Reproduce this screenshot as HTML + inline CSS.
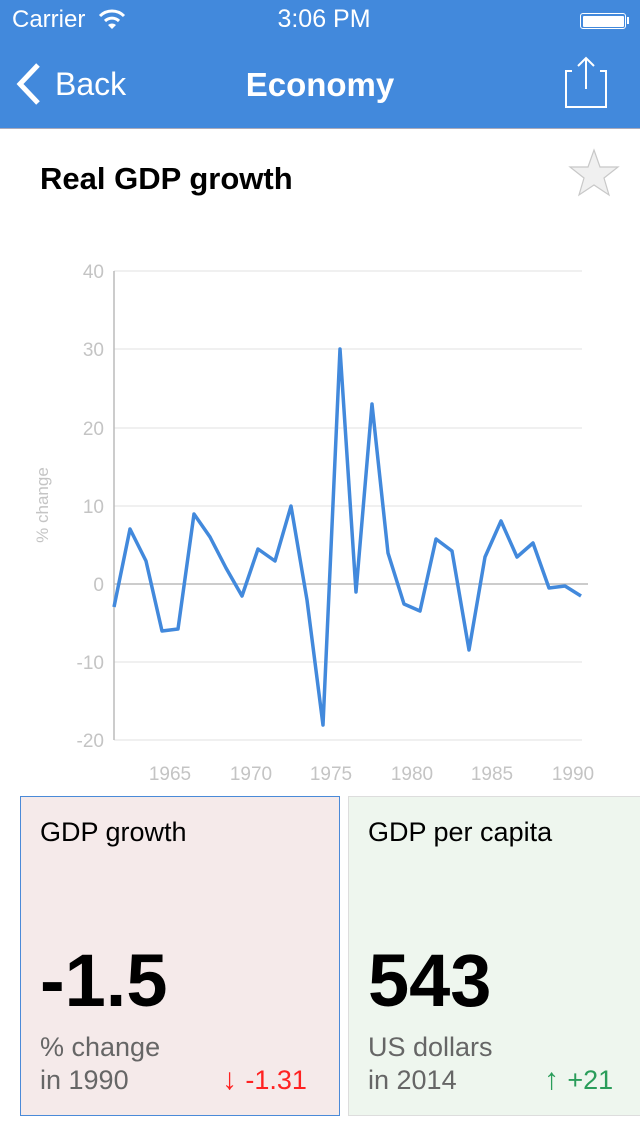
<!DOCTYPE html>
<html><head><meta charset="utf-8"><style>
body{margin:0;width:640px;height:1136px;background:#fff;font-family:"Liberation Sans",sans-serif;position:relative;overflow:hidden}
.a{position:absolute;white-space:nowrap}
</style></head><body>
<div class="a" style="left:0;top:0;width:640px;height:128px;background:#4289dc;border-bottom:1px solid #aab"></div>
<div class="a" style="left:12px;top:6px;color:#fff;font-size:24px">Carrier</div>
<svg class="a" style="left:98px;top:8px" width="28" height="22" viewBox="0 0 28 22"><path d="M2 8 A17 17 0 0 1 26 8" stroke="#fff" stroke-width="3" fill="none"/><path d="M7 13 A10 10 0 0 1 21 13" stroke="#fff" stroke-width="3" fill="none"/><path d="M10 17 L14 21 L18 17 A6 6 0 0 0 10 17Z" fill="#fff"/></svg>
<div class="a" style="left:0;width:648px;text-align:center;top:5px;color:#fff;font-size:25px">3:06 PM</div>
<div class="a" style="left:580px;top:13px;width:44px;height:14px;border:1.5px solid #fff;border-radius:3px"><div style="margin:1.5px;height:11px;background:#fff;border-radius:1px"></div></div>
<div class="a" style="left:627px;top:17px;width:2px;height:7px;background:#fff"></div>
<svg class="a" style="left:14px;top:62px" width="30" height="44"><path d="M24 3 L6 22 L24 41" stroke="#fff" stroke-width="5" fill="none"/></svg>
<div class="a" style="left:55px;top:66px;color:#fff;font-size:32px">Back</div>
<div class="a" style="left:0;width:640px;text-align:center;top:66px;color:#fff;font-size:33px;font-weight:bold">Economy</div>
<svg class="a" style="left:565px;top:55px" width="45" height="55"><path d="M7 16 H1 V52 H41 V16 H35" stroke="#fff" stroke-width="2" fill="none"/><path d="M21 3 V34 M13 11 L21 3 L29 11" stroke="#fff" stroke-width="2" fill="none"/></svg>
<div class="a" style="left:40px;top:161px;font-size:31px;font-weight:bold">Real GDP growth</div>
<svg class="a" style="left:568px;top:148px" width="52" height="52"><polygon points="26,2 32,19 50,19 36,30 41,47 26,37 11,47 16,30 2,19 20,19" fill="#f0f0f0" stroke="#c8c8c8" stroke-width="1.2"/></svg>
<svg class="a" style="left:0;top:250px" width="640" height="540" viewBox="0 250 640 540">
<g stroke="#ececec" stroke-width="1.5"><line x1="114" x2="582" y1="271" y2="271"/><line x1="114" x2="582" y1="349" y2="349"/><line x1="114" x2="582" y1="428" y2="428"/><line x1="114" x2="582" y1="506" y2="506"/><line x1="114" x2="582" y1="662" y2="662"/><line x1="114" x2="582" y1="740" y2="740"/></g>
<line x1="114" x2="588" y1="584" y2="584" stroke="#bbb" stroke-width="1.5"/>
<line x1="114" x2="114" y1="271" y2="740" stroke="#bbb" stroke-width="1.5"/>
<g font-size="19" fill="#c4c4c4" text-anchor="end"><text x="104" y="278">40</text><text x="104" y="356">30</text><text x="104" y="435">20</text><text x="104" y="513">10</text><text x="104" y="591">0</text><text x="104" y="669">-10</text><text x="104" y="747">-20</text></g>
<g font-size="19" fill="#c4c4c4" text-anchor="middle"><text x="170" y="780">1965</text><text x="251" y="780">1970</text><text x="331" y="780">1975</text><text x="412" y="780">1980</text><text x="492" y="780">1985</text><text x="573" y="780">1990</text></g>
<text x="48" y="505" font-size="17" fill="#c4c4c4" text-anchor="middle" transform="rotate(-90 48 505)">% change</text>
<polyline fill="none" stroke="#4289dc" stroke-width="3.5" stroke-linejoin="round" points="114,607 130,529 146,561 162,631 178,629 194,514 210,537 226,568 242,596 258,549 275,561 291,506 307,600 323,725 340,349 356,592 372,404 388,553 404,604 420,611 436,539 452,551 469,650 485,557 501,521 517,557 533,543 549,588 565,586 581,596"/>
</svg>
<div class="a" style="left:20px;top:796px;width:318px;height:318px;background:#f5eaea;border:1.5px solid #4a8ad8"></div>
<div class="a" style="left:40px;top:817px;font-size:27px">GDP growth</div>
<div class="a" style="left:40px;top:938px;font-size:74px;font-weight:bold">-1.5</div>
<div class="a" style="left:40px;top:1032px;font-size:27px;color:#666">% change</div>
<div class="a" style="left:40px;top:1065px;font-size:27px;color:#666">in 1990</div>
<div class="a" style="left:222px;top:1063px;font-size:30px;color:#f22">↓ <span style="font-size:27px">-1.31</span></div>
<div class="a" style="left:348px;top:796px;width:300px;height:318px;background:#eef6ee;border:1.5px solid #ddd"></div>
<div class="a" style="left:368px;top:817px;font-size:27px">GDP per capita</div>
<div class="a" style="left:368px;top:938px;font-size:74px;font-weight:bold">543</div>
<div class="a" style="left:368px;top:1032px;font-size:27px;color:#666">US dollars</div>
<div class="a" style="left:368px;top:1065px;font-size:27px;color:#666">in 2014</div>
<div class="a" style="left:544px;top:1063px;font-size:30px;color:#2a9d5a">↑ <span style="font-size:27px">+21</span></div>
</body></html>
